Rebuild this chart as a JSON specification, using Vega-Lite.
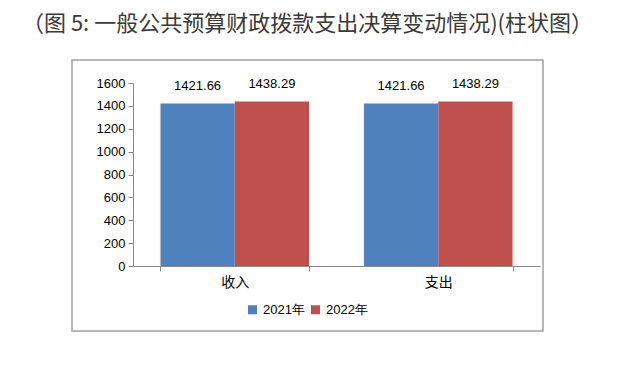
{
  "$schema": "https://vega.github.io/schema/vega-lite/v6.json",
  "autosize": {"type": "none"},
  "padding": {"left": 72, "top": 60, "right": 97, "bottom": 35},
  "width": 471,
  "height": 271,
  "title": {
    "text": "（图 5: 一般公共预算财政拨款支出决算变动情况)(柱状图）",
    "font": "Noto Sans CJK SC",
    "fontSize": 22,
    "fontWeight": "normal",
    "color": "#3a3a3a",
    "anchor": "middle",
    "dx": 0,
    "offset": 24
  },
  "config": {
    "view": {"stroke": "#a0a0a0", "strokeWidth": 1.5},
    "axis": {"grid": false}
  },
  "data": {
    "values": [
      {"cat": "收入", "year": "2021年", "value": 1421.66},
      {"cat": "收入", "year": "2022年", "value": 1438.29},
      {"cat": "支出", "year": "2021年", "value": 1421.66},
      {"cat": "支出", "year": "2022年", "value": 1438.29}
    ]
  },
  "encoding": {
    "x": {
      "field": "cat",
      "type": "nominal",
      "sort": ["收入", "支出"],
      "scale": {"range": [61, 468], "paddingInner": 0.27, "paddingOuter": 0.135},
      "axis": {
        "title": null,
        "offset": -65,
        "labelAngle": 0,
        "tickBand": "extent",
        "tickSize": 5,
        "tickColor": "#888888",
        "domainColor": "#888888",
        "labelFont": "Noto Sans CJK SC",
        "labelFontSize": 14,
        "labelColor": "#000000",
        "labelPadding": 4
      }
    },
    "xOffset": {"field": "year", "type": "nominal", "sort": ["2021年", "2022年"]},
    "y": {
      "field": "value",
      "type": "quantitative",
      "scale": {"domain": [0, 1600], "nice": false, "range": [206, 23]},
      "axis": {
        "title": null,
        "offset": -61,
        "format": "d",
        "values": [0, 200, 400, 600, 800, 1000, 1200, 1400, 1600],
        "tickSize": 5,
        "tickColor": "#888888",
        "domainColor": "#888888",
        "labelFont": "Liberation Sans",
        "labelFontSize": 13,
        "labelColor": "#000000",
        "labelPadding": 3
      }
    },
    "color": {
      "field": "year",
      "type": "nominal",
      "scale": {"domain": ["2021年", "2022年"], "range": ["#4F81BD", "#C0504D"]},
      "legend": {
        "title": null,
        "orient": "none",
        "legendX": 174,
        "legendY": 243,
        "direction": "horizontal",
        "symbolType": "square",
        "symbolSize": 81,
        "symbolStrokeWidth": 0,
        "labelFont": "Liberation Sans",
        "labelFontSize": 13,
        "labelColor": "#000000",
        "labelOffset": 4,
        "columnPadding": 4
      }
    }
  },
  "layer": [
    {"mark": {"type": "bar"}},
    {
      "mark": {"type": "text", "baseline": "bottom", "dy": -10, "font": "Liberation Sans", "fontSize": 13, "color": "#000000"},
      "encoding": {
        "text": {"field": "value", "type": "quantitative", "format": ".2f"},
        "color": {"value": "#000000"}
      }
    }
  ]
}
